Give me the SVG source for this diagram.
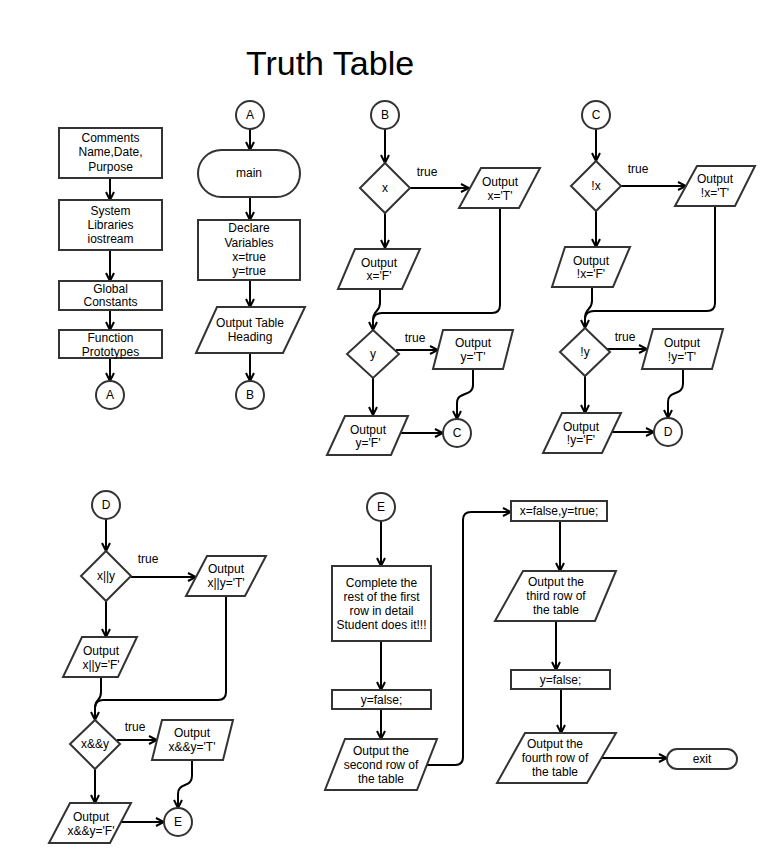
<svg xmlns="http://www.w3.org/2000/svg" width="782" height="864" viewBox="0 0 782 864">
<defs>
<marker id="ah" viewBox="0 0 10 10" refX="9" refY="5" markerWidth="10" markerHeight="10" markerUnits="userSpaceOnUse" orient="auto">
<path d="M1,1 L9,5 L1,9" fill="none" stroke="#000" stroke-width="2"/>
</marker>
</defs>
<style>
.s{fill:#fff;stroke:#333;stroke-width:2}
.t{font-family:"Liberation Sans",Arial,sans-serif;font-size:12px;fill:#000;text-anchor:middle}
.c{fill:none;stroke:#000;stroke-width:2}
.a{marker-end:url(#ah)}
.title{font-family:"Liberation Sans",Arial,sans-serif;font-size:34px;fill:#000;text-anchor:middle}
</style>
<rect width="782" height="864" fill="#fff"/>
<text class="title" x="330" y="75">Truth Table</text>

<g id="connectors">
<path class="c a" d="M110,178 V200"/>
<path class="c a" d="M110,250 V281"/>
<path class="c a" d="M110,310 V330"/>
<path class="c a" d="M110,358 V381"/>
<path class="c a" d="M250,129 V150"/>
<path class="c a" d="M250,197 V220"/>
<path class="c a" d="M250,280 V307"/>
<path class="c a" d="M250,353 V381"/>
<path class="c a" d="M385,129 V163"/>
<path class="c a" d="M410,188 H469"/>
<path class="c a" d="M385,213 V248"/>
<path class="c" d="M500,208 V305 Q500,313 492,313 H382 Q374,313 373,320"/>
<path class="c a" d="M380,289 V303 C380,312 373,310 373,320 V330"/>
<path class="c a" d="M396,350 H438"/>
<path class="c a" d="M373,378 V415"/>
<path class="c a" d="M473,369 V385 C473,397 457,391 457,403 V419"/>
<path class="c a" d="M400,433 H443"/>
<path class="c a" d="M596,129 V161"/>
<path class="c a" d="M621,186 H686"/>
<path class="c a" d="M596,211 V247"/>
<path class="c" d="M715,206 V303 Q715,311 707,311 H594 Q586,311 585,318"/>
<path class="c a" d="M592,287 V301 C592,310 585,308 585,318 V328"/>
<path class="c a" d="M606,349 H647"/>
<path class="c a" d="M585,376 V413"/>
<path class="c a" d="M683,369 V384 C683,396 668,390 668,402 V418"/>
<path class="c a" d="M612,432 H654"/>
<path class="c a" d="M106,519 V551"/>
<path class="c a" d="M131,577 H196"/>
<path class="c a" d="M106,601 V637"/>
<path class="c" d="M226,596 V692 Q226,700 218,700 H103 Q96,700 95,707"/>
<path class="c a" d="M101,677 V692 C101,702 95,698 95,708 V720"/>
<path class="c a" d="M117,740 H157"/>
<path class="c a" d="M95,769 V803"/>
<path class="c a" d="M192,760 V776 C192,788 178,782 178,794 V808"/>
<path class="c a" d="M121,822 H164"/>
<path class="c a" d="M381,521 V566"/>
<path class="c a" d="M381,641 V690"/>
<path class="c a" d="M381,709 V739"/>
<path class="c a" d="M426,765 H455 Q463,765 463,757 V520 Q463,512 471,512 H511"/>
<path class="c a" d="M560,521 V571"/>
<path class="c a" d="M556,621 V670"/>
<path class="c a" d="M561,689 V733"/>
<path class="c a" d="M601,758 H667"/>
</g>

<g id="n-comments"><rect class="s" x="59" y="128" width="103" height="50"/><text class="t" x="110.5" y="142">Comments</text><text class="t" x="110.5" y="156">Name,Date,</text><text class="t" x="110.5" y="171">Purpose</text></g>
<g id="n-libraries"><rect class="s" x="59" y="200" width="103" height="50"/><text class="t" x="110.5" y="215">System</text><text class="t" x="110.5" y="229">Libraries</text><text class="t" x="110.5" y="243">iostream</text></g>
<g id="n-global"><rect class="s" x="59" y="281" width="103" height="29"/><text class="t" x="110.5" y="293">Global</text><text class="t" x="110.5" y="306">Constants</text></g>
<g id="n-proto"><rect class="s" x="59" y="330" width="103" height="28"/><text class="t" x="110.5" y="342">Function</text><text class="t" x="110.5" y="356">Prototypes</text></g>
<g id="n-A1"><circle class="s" cx="110" cy="395" r="14"/><text class="t" x="110" y="399">A</text></g>

<g id="n-A2"><circle class="s" cx="250" cy="115" r="14"/><text class="t" x="250" y="119">A</text></g>
<g id="n-main"><rect class="s" x="198" y="150" width="102" height="47" rx="23.5"/><text class="t" x="249" y="177">main</text></g>
<g id="n-declare"><rect class="s" x="198" y="220" width="102" height="60"/><text class="t" x="249" y="232">Declare</text><text class="t" x="249" y="247">Variables</text><text class="t" x="249" y="261">x=true</text><text class="t" x="249" y="275">y=true</text></g>
<g id="n-heading"><polygon class="s" points="217,307 305,307 283,353 196,353"/><text class="t" x="250" y="327">Output Table</text><text class="t" x="250" y="341">Heading</text></g>
<g id="n-B1"><circle class="s" cx="250" cy="395" r="14"/><text class="t" x="250" y="399">B</text></g>

<g id="n-B2"><circle class="s" cx="385" cy="115" r="14"/><text class="t" x="385" y="119">B</text></g>
<g id="n-dx"><polygon class="s" points="385,163 410,188 385,213 360,188"/><text class="t" x="385" y="192">x</text></g>
<text class="t" x="427" y="176">true</text>
<g id="n-xT"><polygon class="s" points="481,168 540,168 519,208 459,208"/><text class="t" x="500" y="186">Output</text><text class="t" x="500" y="200">x='T'</text></g>
<g id="n-xF"><polygon class="s" points="355,249 420,249 402,289 338,289"/><text class="t" x="379" y="267">Output</text><text class="t" x="379" y="280">x='F'</text></g>
<g id="n-dy"><polygon class="s" points="373,330 399,354 373,378 347,354"/><text class="t" x="373" y="358">y</text></g>
<text class="t" x="415" y="342">true</text>
<g id="n-yT"><polygon class="s" points="443,330 513,330 503,369 433,369"/><text class="t" x="473" y="347">Output</text><text class="t" x="473" y="361">y='T'</text></g>
<g id="n-yF"><polygon class="s" points="345,416 408,416 391,455 327,455"/><text class="t" x="368" y="434">Output</text><text class="t" x="368" y="447">y='F'</text></g>
<g id="n-C1"><circle class="s" cx="457" cy="433" r="14"/><text class="t" x="457" y="437">C</text></g>

<g id="n-C2"><circle class="s" cx="596" cy="115" r="14"/><text class="t" x="596" y="119">C</text></g>
<g id="n-dnx"><polygon class="s" points="596,161 621,186 596,211 571,186"/><text class="t" x="596" y="190">!x</text></g>
<text class="t" x="638" y="173">true</text>
<g id="n-nxT"><polygon class="s" points="697,166 755,166 735,206 675,206"/><text class="t" x="715" y="183">Output</text><text class="t" x="715" y="197">!x='T'</text></g>
<g id="n-nxF"><polygon class="s" points="565,247 630,247 613,287 552,287"/><text class="t" x="591" y="265">Output</text><text class="t" x="591" y="278">!x='F'</text></g>
<g id="n-dny"><polygon class="s" points="585,328 610,352 585,376 560,352"/><text class="t" x="585" y="356">!y</text></g>
<text class="t" x="625" y="341">true</text>
<g id="n-nyT"><polygon class="s" points="653,329 723,329 712,369 642,369"/><text class="t" x="682" y="347">Output</text><text class="t" x="682" y="361">!y='T'</text></g>
<g id="n-nyF"><polygon class="s" points="562,413 621,413 602,453 543,453"/><text class="t" x="581" y="431">Output</text><text class="t" x="581" y="444">!y='F'</text></g>
<g id="n-D1"><circle class="s" cx="668" cy="432" r="14"/><text class="t" x="668" y="436">D</text></g>

<g id="n-D2"><circle class="s" cx="106" cy="505" r="14"/><text class="t" x="106" y="509">D</text></g>
<g id="n-dor"><polygon class="s" points="106,551 131,576 106,601 81,576"/><text class="t" x="106" y="580">x||y</text></g>
<text class="t" x="148" y="563">true</text>
<g id="n-orT"><polygon class="s" points="207,556 266,556 245,596 186,596"/><text class="t" x="226" y="573">Output</text><text class="t" x="226" y="587">x||y='T'</text></g>
<g id="n-orF"><polygon class="s" points="82,637 137,637 118,677 63,677"/><text class="t" x="101" y="655">Output</text><text class="t" x="101" y="669">x||y='F'</text></g>
<g id="n-dand"><polygon class="s" points="95,720 120,744 95,769 70,744"/><text class="t" x="95" y="748">x&amp;&amp;y</text></g>
<text class="t" x="135" y="731">true</text>
<g id="n-andT"><polygon class="s" points="162,720 233,720 223,760 152,760"/><text class="t" x="192" y="737">Output</text><text class="t" x="192" y="751">x&amp;&amp;y='T'</text></g>
<g id="n-andF"><polygon class="s" points="70,803 131,803 110,843 49,843"/><text class="t" x="91" y="821">Output</text><text class="t" x="91" y="835">x&amp;&amp;y='F'</text></g>
<g id="n-E1"><circle class="s" cx="178" cy="822" r="14"/><text class="t" x="178" y="826">E</text></g>

<g id="n-E2"><circle class="s" cx="381" cy="507" r="14"/><text class="t" x="381" y="511">E</text></g>
<g id="n-complete"><rect class="s" x="332" y="566" width="99" height="75"/><text class="t" x="381.5" y="587">Complete the</text><text class="t" x="381.5" y="601">rest of the first</text><text class="t" x="381.5" y="615">row in detail</text><text class="t" x="381.5" y="629">Student does it!!!</text></g>
<g id="n-yfalse1"><rect class="s" x="332" y="690" width="99" height="19"/><text class="t" x="381.5" y="704">y=false;</text></g>
<g id="n-row2"><polygon class="s" points="345,739 437,739 417,790 325,790"/><text class="t" x="381" y="755">Output the</text><text class="t" x="381" y="769">second row of</text><text class="t" x="381" y="783">the table</text></g>

<g id="n-xfalse"><rect class="s" x="511" y="501" width="96" height="20"/><text class="t" x="559" y="515">x=false,y=true;</text></g>
<g id="n-row3"><polygon class="s" points="523,571 616,571 595,621 495,621"/><text class="t" x="556" y="586">Output the</text><text class="t" x="556" y="600">third row of</text><text class="t" x="556" y="614">the table</text></g>
<g id="n-yfalse2"><rect class="s" x="511" y="670" width="99" height="19"/><text class="t" x="560.5" y="684">y=false;</text></g>
<g id="n-row4"><polygon class="s" points="525,733 616,733 587,783 497,783"/><text class="t" x="555" y="748">Output the</text><text class="t" x="555" y="762">fourth row of</text><text class="t" x="555" y="776">the table</text></g>
<g id="n-exit"><rect class="s" x="667" y="749" width="70" height="20" rx="10"/><text class="t" x="702" y="763">exit</text></g>
</svg>
